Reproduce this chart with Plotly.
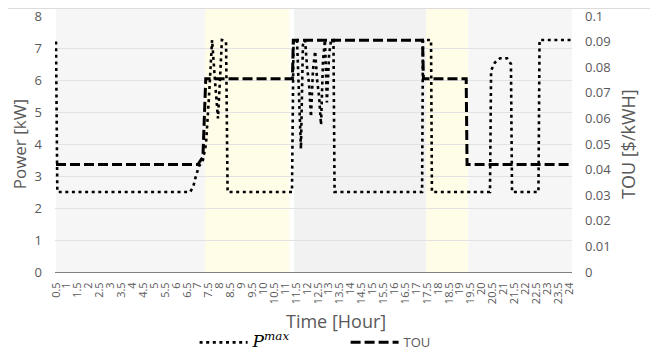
import plotly.graph_objects as go

# ---------------- data ----------------
tick_hours = [i * 0.5 for i in range(1, 49)]
tick_labels = [f"{h:g}" for h in tick_hours]

pmax_hour = [0.50, 0.56, 6.64, 6.78, 6.91, 7.05, 7.23, 7.37, 7.51, 7.65, 7.78, 7.92,
             8.01, 8.10, 8.29, 8.36, 11.31, 11.38, 11.54, 11.63, 11.72, 11.81, 11.91,
             12.00, 12.09, 12.18, 12.27, 12.37, 12.46, 12.55, 12.64, 12.73, 12.82,
             12.91, 13.01, 13.10, 13.21, 13.26, 17.27, 17.31, 17.68, 17.72, 20.38,
             20.43, 20.61, 20.84, 21.16, 21.34, 21.39, 22.60, 22.65, 24.14]
pmax_kw = [7.2, 2.5, 2.5, 2.65, 3.0, 3.3, 3.5, 4.0, 5.5, 7.25, 6.0, 4.8,
           6.0, 7.25, 7.2, 2.5, 2.5, 7.25, 7.25, 5.5, 3.85, 7.1, 7.25,
           6.4, 5.9, 4.85, 6.3, 6.9, 6.0, 5.5, 4.6, 6.6, 7.25,
           5.3, 6.8, 7.25, 7.25, 2.5, 2.5, 7.25, 7.25, 2.5, 2.5,
           6.3, 6.55, 6.68, 6.68, 6.5, 2.5, 2.5, 7.25, 7.25]

tou_hour = [0.50, 7.00, 7.23, 7.36, 11.33, 11.37, 17.29, 17.33, 19.29, 19.33, 24.14]
tou_price = [0.042, 0.042, 0.045, 0.0755, 0.0755, 0.0905, 0.0905, 0.0755, 0.0755, 0.042, 0.042]

period_start = [0.50, 7.33, 11.40, 17.45, 19.39]
period_end = [7.33, 11.19, 17.45, 19.39, 24.14]
period_kind = ["off", "mid", "peak", "mid", "off"]

kw_ticks = list(range(0, 9))
price_ticks = [i / 100 for i in range(0, 11)]
price_labels = ["0"] + [f"{p:g}" for p in price_ticks[1:]]

# ---------------- style ----------------
band_colors = {"off": "#f6f6f6", "mid": "#fffde8", "peak": "#f2f2f2"}
txt = "#595959"
font_family = "Open Sans"

fig = go.Figure()

fig.add_trace(go.Scatter(
    x=pmax_hour, y=pmax_kw, mode="lines",
    name='<span style="font-family:DejaVu Serif;font-size:17px;color:#000000"><i>P</i><sup><i>max</i></sup></span>',
    line=dict(color="#000000", width=2.6, dash="3px,3.6px"),
    yaxis="y",
))
fig.add_trace(go.Scatter(
    x=tou_hour, y=tou_price, mode="lines", name="TOU",
    line=dict(color="#000000", width=3, dash="10px,4px"),
    yaxis="y2",
))

shapes = []
for s, e, k in zip(period_start, period_end, period_kind):
    shapes.append(dict(type="rect", xref="x", yref="paper", x0=s, x1=e, y0=0, y1=1.035,
                       fillcolor=band_colors[k], line=dict(width=0), layer="below"))
# faint chart-area border along the top
shapes.append(dict(type="line", xref="paper", yref="paper", x0=-0.0909, x1=1.1663,
                   y0=1.0293, y1=1.0293, line=dict(color="#dcdcdc", width=1), layer="below"))

# the page body has an 8px margin, so the figure is drawn 8px in and 8px down
fig.update_layout(
    width=650, height=346,
    margin=dict(l=47, r=86, t=8, b=82, autoexpand=False),
    paper_bgcolor="white", plot_bgcolor="white",
    font=dict(family=font_family, color=txt, size=13),
    shapes=shapes,
    showlegend=True,
    legend=dict(orientation="h", x=0.27, y=-0.275, xanchor="left", yanchor="middle",
                font=dict(size=13, color=txt), bgcolor="rgba(0,0,0,0)",
                itemwidth=48, tracegroupgap=0, entrywidth=88),
    xaxis=dict(range=[0.454, 24.137], tickmode="array", tickvals=tick_hours, ticktext=tick_labels,
               tickangle=-90, tickfont=dict(size=11, color=txt), showgrid=False, zeroline=False,
               showline=True, linecolor="#808080", linewidth=1, ticks="", ticklabelstandoff=5,
               ticklabeloverflow="allow"),
    yaxis=dict(range=[0, 8], tickmode="array", tickvals=kw_ticks, showgrid=True,
               gridcolor="#e2e2e2", gridwidth=1, zeroline=False, ticks="",
               tickfont=dict(size=13, color=txt), ticklabelstandoff=12, ticklabeloverflow="allow"),
    yaxis2=dict(range=[0, 0.1], tickmode="array", tickvals=price_ticks, ticktext=price_labels,
                overlaying="y", side="right", showgrid=False, zeroline=False, ticks="",
                tickfont=dict(size=13, color=txt), ticklabelstandoff=12, ticklabeloverflow="allow"),
    annotations=[
        dict(text="Power [kW]", xref="paper", yref="paper", x=-0.069, y=0.5, textangle=-90,
             showarrow=False, font=dict(size=17, color=txt), xanchor="center", yanchor="middle",
             borderpad=0),
        dict(text="TOU [$/kWH]", xref="paper", yref="paper", x=1.1083, y=0.5, textangle=-90,
             showarrow=False, font=dict(size=18, color=txt), xanchor="center", yanchor="middle",
             borderpad=0),
        dict(text="Time [Hour]", xref="paper", yref="paper", x=(336 - 55) / 517, y=-0.191,
             showarrow=False, font=dict(size=18, color=txt), xanchor="center", yanchor="middle"),
    ],
)

fig.write_html("out.html")
